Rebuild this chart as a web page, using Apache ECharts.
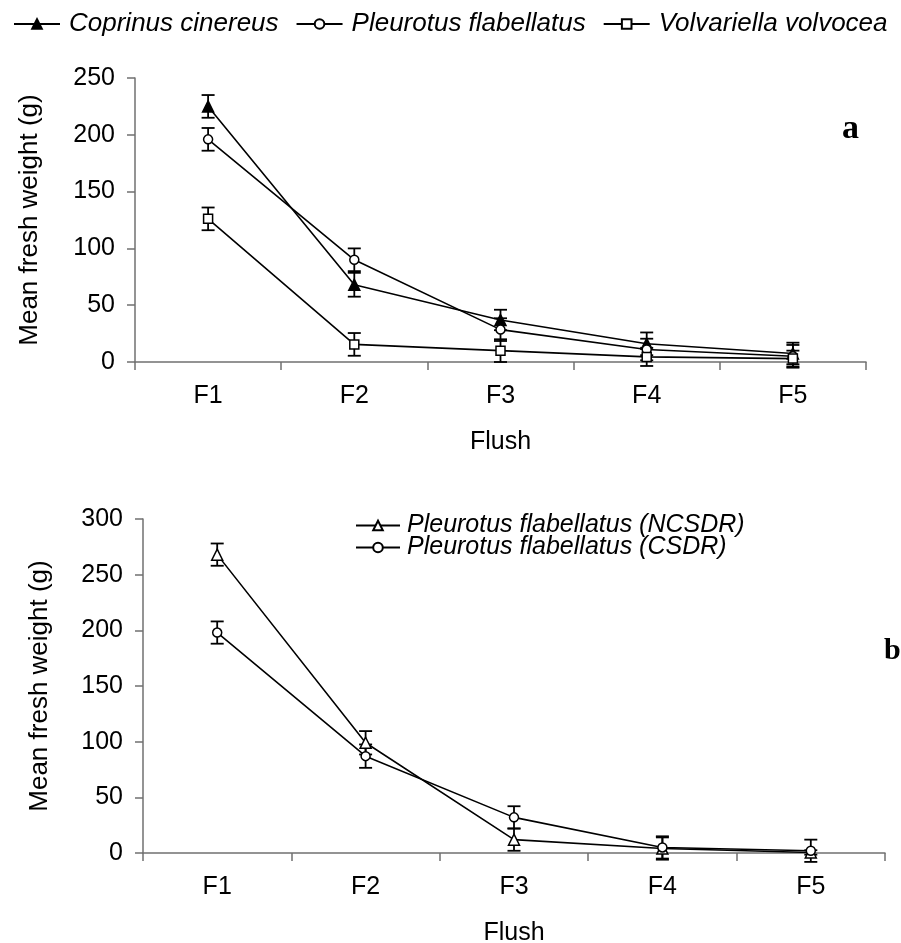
<!DOCTYPE html>
<html>
<head>
<meta charset="utf-8">
<script src="https://cdn.jsdelivr.net/npm/echarts@6/dist/echarts.min.js"></script>
<style>html,body{margin:0;padding:0;background:#fff}#c{width:901px;height:943px}</style>
</head>
<body>
<div id="c"></div>
<script>
const categories = ['F1', 'F2', 'F3', 'F4', 'F5'];
// Chart a
const coprinus = [225, 68, 37, 16, 7.5];
const coprinusErr = [10, 10.5, 9, 10, 9.5];
const pleurotusA = [196, 90, 28.5, 11, 5];
const pleurotusAErr = [10, 10, 10, 9.5, 10];
const volvariella = [126, 15.5, 10, 4.5, 3];
const volvariellaErr = [10, 10, 10, 8, 7];
const yTicksA = [0, 50, 100, 150, 200, 250];
// Chart b
const ncsdr = [268, 99, 12, 4, 0.5];
const ncsdrErr = [10, 10.5, 10, 10, 2];
const csdr = [198, 87, 32, 5, 2];
const csdrErr = [10, 10.5, 10, 10, 10];
const yTicksB = [0, 50, 100, 150, 200, 250, 300];

const FONT = 'Liberation Sans, Arial, sans-serif';
const AXIS_GREY = '#707070';

function errData(vals, errs) { return vals.map((v, i) => [i, v, errs[i]]); }
function errSeries(name, vals, errs, xi, yi) {
  return {
    name: name, type: 'custom', xAxisIndex: xi, yAxisIndex: yi, z: 1, silent: true,
    encode: { x: 0, y: 1 },
    data: errData(vals, errs),
    renderItem: function (params, api) {
      const x = api.value(0), v = api.value(1), e = api.value(2);
      const t = api.coord([x, v + e]);
      const b = api.coord([x, v - e]);
      const w = 6.5;
      const st = { stroke: '#000', lineWidth: 1.8 };
      return {
        type: 'group', children: [
          { type: 'line', shape: { x1: t[0], y1: t[1], x2: b[0], y2: b[1] }, style: st },
          { type: 'line', shape: { x1: t[0] - w, y1: t[1], x2: t[0] + w, y2: t[1] }, style: st },
          { type: 'line', shape: { x1: b[0] - w, y1: b[1], x2: b[0] + w, y2: b[1] }, style: st }
        ]
      };
    }
  };
}
function lineSeries(name, vals, symbol, size, filled, xi, yi) {
  return {
    name: name, type: 'line', xAxisIndex: xi, yAxisIndex: yi, z: 3,
    data: vals, symbol: symbol, symbolSize: size, showSymbol: true,
    lineStyle: { color: '#000', width: 1.6 },
    itemStyle: { color: filled ? '#000' : '#fff', borderColor: '#000', borderWidth: 1.5 },
    emphasis: { disabled: true }
  };
}
function xAxis(gi) {
  return {
    type: 'category', gridIndex: gi, data: categories, boundaryGap: true,
    name: 'Flush', nameLocation: 'middle', nameGap: 68,
    nameTextStyle: { fontFamily: FONT, fontSize: 25, color: '#000' },
    axisLine: { show: true, lineStyle: { color: AXIS_GREY, width: 1.5 } },
    axisTick: { show: true, length: 8, interval: 0, lineStyle: { color: AXIS_GREY, width: 1.5 } },
    axisLabel: { fontFamily: FONT, fontSize: 25, color: '#000', margin: 22 },
    splitLine: { show: false }
  };
}
function yAxis(gi, max, gap) {
  return {
    type: 'value', gridIndex: gi, min: 0, max: max, interval: 50,
    name: 'Mean fresh weight (g)', nameLocation: 'middle', nameGap: gap,
    nameTextStyle: { fontFamily: FONT, fontSize: 26, color: '#000' },
    axisLine: { show: true, lineStyle: { color: AXIS_GREY, width: 1.5 } },
    axisTick: { show: true, length: 8, lineStyle: { color: AXIS_GREY, width: 1.5 } },
    axisLabel: { fontFamily: FONT, fontSize: 25, color: '#000', margin: 20 },
    splitLine: { show: false }
  };
}

const chart = echarts.init(document.getElementById('c'), null, { renderer: 'canvas' });
chart.setOption({
  backgroundColor: '#fff',
  animation: false,
  grid: [
    { left: 135, top: 78, width: 731, height: 284, outerBoundsMode: 'none' },
    { left: 143, top: 519, width: 742, height: 334, outerBoundsMode: 'none' }
  ],
  xAxis: [xAxis(0), xAxis(1)],
  yAxis: [yAxis(0, 250, 92), yAxis(1, 300, 90)],
  legend: [
    {
      data: ['Coprinus cinereus', 'Pleurotus flabellatus', 'Volvariella volvocea'],
      left: 8, top: 6, itemWidth: 46, itemHeight: 12, itemGap: 17,
      textStyle: { fontFamily: FONT, fontSize: 26, fontStyle: 'italic', color: '#000', padding: [0, 0, 0, 4] },
      selectedMode: false
    },
    {
      data: ['Pleurotus flabellatus (NCSDR)', 'Pleurotus flabellatus (CSDR)'],
      orient: 'vertical', left: 350, top: 508, itemWidth: 44, itemHeight: 12, itemGap: -3,
      textStyle: { fontFamily: FONT, fontSize: 25, fontStyle: 'italic', color: '#000', lineHeight: 22, padding: [0, 0, 0, 2] },
      selectedMode: false
    }
  ],
  graphic: [
    { type: 'text', left: 842, top: 112, style: { text: 'a', font: 'bold 34px "Liberation Serif", serif', fill: '#000' } },
    { type: 'text', left: 884, top: 636, style: { text: 'b', font: 'bold 30px "Liberation Serif", serif', fill: '#000' } }
  ],
  series: [
    errSeries('e1', coprinus, coprinusErr, 0, 0),
    errSeries('e2', pleurotusA, pleurotusAErr, 0, 0),
    errSeries('e3', volvariella, volvariellaErr, 0, 0),
    lineSeries('Coprinus cinereus', coprinus, 'triangle', 11, true, 0, 0),
    lineSeries('Pleurotus flabellatus', pleurotusA, 'circle', 9, false, 0, 0),
    lineSeries('Volvariella volvocea', volvariella, 'rect', 9, false, 0, 0),
    errSeries('e4', ncsdr, ncsdrErr, 1, 1),
    errSeries('e5', csdr, csdrErr, 1, 1),
    lineSeries('Pleurotus flabellatus (NCSDR)', ncsdr, 'triangle', 11, false, 1, 1),
    lineSeries('Pleurotus flabellatus (CSDR)', csdr, 'circle', 9, false, 1, 1)
  ]
});
</script>
</body>
</html>
